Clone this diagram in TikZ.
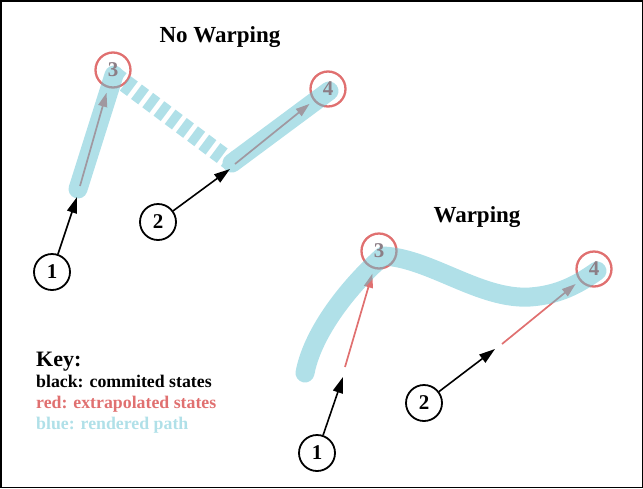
\documentclass[tikz,border=0pt]{standalone}
\usepackage{fontspec}
\setmainfont{Liberation Serif}
\usetikzlibrary{arrows.meta}
\definecolor{redc}{RGB}{224,112,112}
\definecolor{bluec}{RGB}{97,193,209}
\definecolor{bluetext}{RGB}{176,224,232}
\definecolor{grayn}{RGB}{140,126,134}
\begin{document}
\begin{tikzpicture}[x=1pt,y=-1pt,
  state/.style={circle, draw=black, line width=1.8pt, minimum size=36pt, inner sep=0pt,
    font=\fontsize{21}{21}\selectfont\bfseries},
  extra/.style={circle, draw=redc, line width=2.3pt, minimum size=35pt, inner sep=0pt},
  num/.style={text=grayn, inner sep=0pt, font=\fontsize{21}{21}\selectfont\bfseries},
  commit/.style={-{Triangle[length=16pt,width=10pt]}, line width=1.6pt, draw=black},
  extrap/.style={-{Triangle[length=14pt,width=9pt]}, line width=1.7pt, draw=redc, fill=redc, shorten >=5pt},
  rpath/.style={line width=19pt, draw=bluec, line cap=round, line join=round},
  dpath/.style={line width=18pt, draw=bluec, line cap=butt, dash pattern=on 9pt off 5pt},
  title/.style={font=\fontsize{23}{23}\selectfont\bfseries, inner sep=0pt},
  keyline/.style={anchor=base west, inner sep=0pt, font=\fontsize{17.8}{20}\selectfont\bfseries}]
\useasboundingbox (0,0) rectangle (643,488);
\draw[line width=1.5pt] (0.75,0.75) rectangle (642.25,487.25);

% ---------- No Warping ----------
\node[title, anchor=base] (t1) at (220,42) {No Warping};
\node[extra] (r3a) at (113,70) {};
\node[extra] (r4a) at (328,89) {};
\coordinate (ga1) at (80,186);
\coordinate (ga2) at (235,164);
\draw[extrap] (ga1) -- (r3a);
\draw[extrap] (ga2) -- (r4a);

% ---------- Warping ----------
\node[title, anchor=base] (t2) at (477,222) {Warping};
\node[extra] (r3b) at (379,251) {};
\node[extra] (r4b) at (594,269) {};
\coordinate (ra1) at (345,367);
\coordinate (ra2) at (502,344);
\draw[extrap] (ra1) -- (r3b);
\draw[extrap] (ra2) -- (r4b);

% ---------- rendered paths ----------
\coordinate (p1a) at (78,189);
\coordinate (p1b) at (114,75);
\coordinate (p1c) at (232,163);
\coordinate (p1d) at (329,91);
\begin{scope}[transparency group, opacity=0.5]
  \draw[rpath] (p1a) -- (p1b);
  \draw[dpath] (p1b) -- (p1c);
  \draw[rpath] (p1c) -- (p1d);
\end{scope}
\coordinate (w0) at (305,373);
\coordinate (w1) at (383,256);
\coordinate (w2) at (530,297);
\coordinate (w3) at (597,271);
\begin{scope}[transparency group, opacity=0.5]
  \draw[rpath] (w0) .. controls (312,335) and (345,290) .. (w1)
               .. controls (430,258) and (480,300) .. (w2)
               .. controls (560,295) and (580,283) .. (w3);
\end{scope}

% numbers of extrapolated states
\node[num] at (r3a) {3};
\node[num] at (r4a) {4};
\node[num] at (r3b) {3};
\node[num] at (r4b) {4};

% ---------- committed states ----------
\node[state] (c1a) at (52,272) {1};
\node[state] (c2a) at (158,222) {2};
\node[state] (c1b) at (317,453) {1};
\node[state] (c2b) at (424,403) {2};
\coordinate (ta1) at (77,197);
\coordinate (ta2) at (230,169);
\coordinate (tb1) at (343,377);
\coordinate (tb2) at (495,349);
\draw[commit] (c1a) -- (ta1);
\draw[commit] (c2a) -- (ta2);
\draw[commit] (c1b) -- (tb1);
\draw[commit] (c2b) -- (tb2);

% ---------- key ----------
\node[anchor=base west, inner sep=0pt, font=\fontsize{22}{22}\selectfont\bfseries] (key) at (36,366) {Key:};
\node[keyline] (k1) at (36,387) {black: commited states};
\node[keyline, text=redc] (k2) at (36,408) {red: extrapolated states};
\node[keyline, text=bluetext] (k3) at (36,429) {blue: rendered path};
\end{tikzpicture}
\end{document}
